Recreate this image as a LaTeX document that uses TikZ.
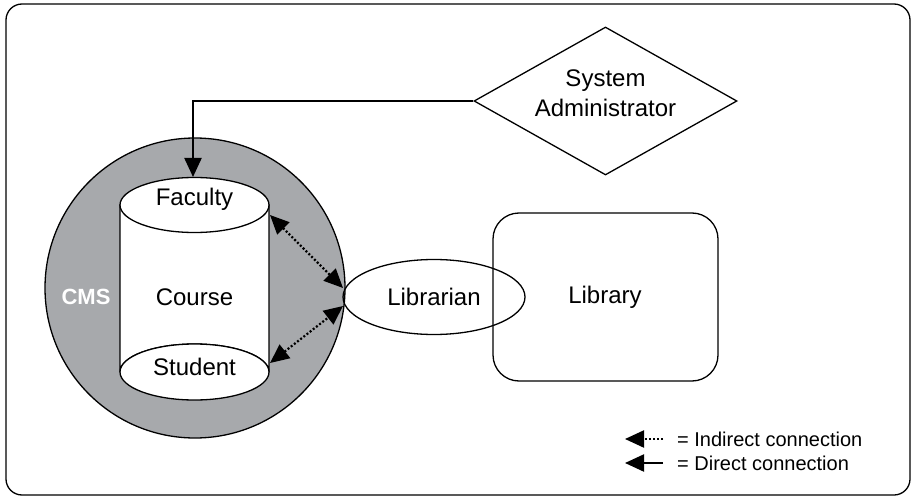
\documentclass[tikz,border=0pt]{standalone}
\usepackage{fontspec}
\setmainfont{Liberation Sans}
\usetikzlibrary{shapes.geometric,arrows.meta}
\definecolor{cmsgray}{RGB}{167,169,172}
\tikzset{
  lbl/.style={font=\fontsize{24}{28}\selectfont, align=center},
  outline/.style={draw=black, line width=1.3pt},
  bigtip/.style={Triangle[length=19pt,width=17pt]},
  direct/.style={line width=2.2pt, -{Triangle[length=19pt,width=17pt]}},
  indirect/.style={line width=2.2pt, dash pattern=on 2pt off 2pt,
    {Triangle[length=19pt,width=17pt]}-{Triangle[length=19pt,width=17pt]}},
  legendtxt/.style={font=\fontsize{20}{24}\selectfont, anchor=west, inner sep=0pt},
}
\begin{document}
\begin{tikzpicture}[x=1pt,y=-1pt]
  \useasboundingbox (0,0) rectangle (916,500);
  % frame
  \draw[outline, rounded corners=16pt] (6,4) rectangle (910,495);

  % CMS disc
  \node[circle, outline, fill=cmsgray, minimum size=300pt, inner sep=0pt] (cms) at (195,288) {};
  \node[font=\fontsize{22}{26}\selectfont\bfseries, text=white] (cmslbl) at (86,297) {CMS};

  % Course cylinder
  \filldraw[outline, fill=white] (120,205) -- (120,372) arc[start angle=180, end angle=360, x radius=74.5, y radius=28]
    -- (269,205) -- cycle;
  \node[ellipse, outline, fill=white, minimum width=149pt, minimum height=55pt, inner sep=0pt] (fac) at (194.5,205) {};
  \node[ellipse, outline, fill=white, minimum width=149pt, minimum height=56pt, inner sep=0pt] (stu) at (194.5,372) {};
  \node[lbl] at (194.5,199) {Faculty};
  \node[lbl] (course) at (194.5,297) {Course};
  \node[lbl] at (194.5,367) {Student};

  % Library and Librarian
  \node[rectangle, outline, rounded corners=26pt, minimum width=225pt, minimum height=168pt] (lib) at (605.5,297) {};
  \node[lbl] at (605,297) {Library};
  \node[ellipse, outline, minimum width=182pt, minimum height=75pt, inner sep=0pt] (libn) at (434,297) {};
  \node[lbl] at (434,297) {Librarian};

  % System Administrator
  \node[diamond, outline, minimum width=263pt, minimum height=148pt, inner sep=0pt, aspect=1.78] (admin) at (605.5,101) {};
  \node[lbl, font=\fontsize{24}{30}\selectfont] at (605.5,93) {System\\Administrator};

  % connections
  \coordinate (facN) at (193,177);
  \draw[direct] (admin.west) -| (facN);
  \coordinate (facE) at (270,215);
  \coordinate (stuE) at (270,363);
  \coordinate (libW1) at (343,288);
  \coordinate (libW2) at (343,306);
  \draw[indirect] (facE) -- (libW1);
  \draw[indirect] (stuE) -- (libW2);

  % legend
  \coordinate (l1a) at (625,439); \coordinate (l1b) at (663,439);
  \coordinate (l2a) at (625,463); \coordinate (l2b) at (663,463);
  \draw[line width=2.2pt, dash pattern=on 2pt off 2pt, -{Triangle[length=19pt,width=17pt]}] (l1b) -- (l1a);
  \draw[direct] (l2b) -- (l2a);
  \node[legendtxt] at (677,439) {= Indirect connection};
  \node[legendtxt] at (677,463) {= Direct connection};
\end{tikzpicture}
\end{document}
